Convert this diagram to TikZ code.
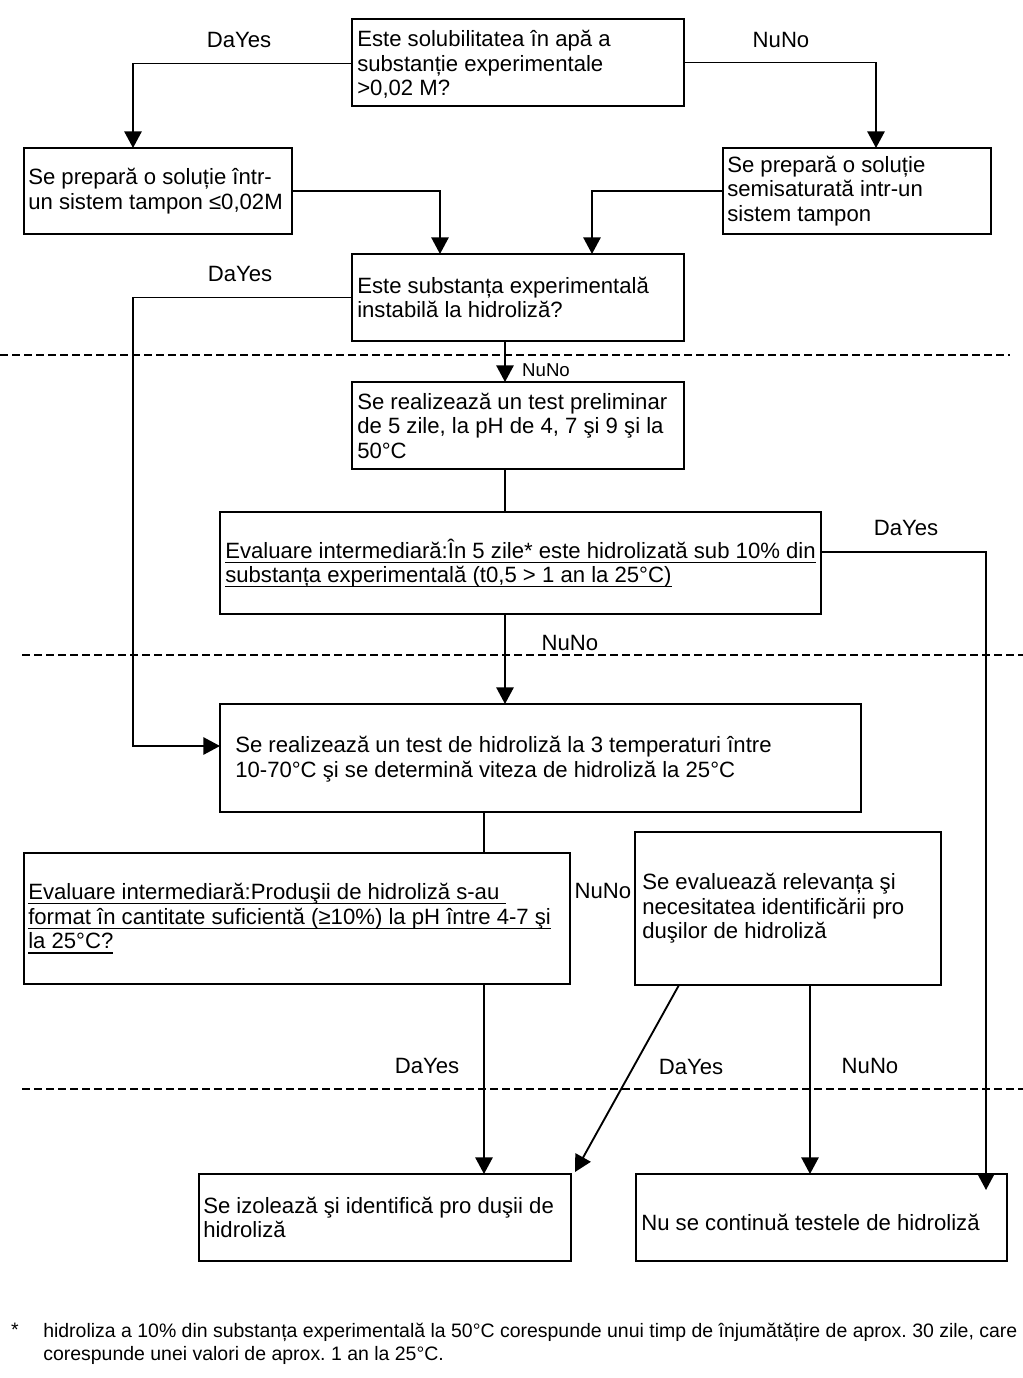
\documentclass[tikz,border=0pt]{standalone}
\usepackage{fontspec}
\setmainfont{Liberation Sans}
\usetikzlibrary{arrows.meta,calc}
\newcommand\myul[1]{\setbox0\hbox{#1}\rlap{\rule[-3.5pt]{\wd0}{0.9pt}}\box0}
\frenchspacing
\begin{document}
\begin{tikzpicture}[x=0.75pt,y=-0.75pt,
  every node/.style={font=\fontsize{16.6}{18.4}\selectfont},
  bx/.style 2 args={draw, line width=1.4pt, minimum width=#1*0.75pt, minimum height=#2*0.75pt, inner sep=0pt, outer sep=0pt},
  txt/.style={anchor=west, align=left, inner sep=0pt},
  lbl/.style={inner sep=0pt},
  smalllbl/.style={inner sep=0pt, font=\fontsize{14}{16}\selectfont},
  conn/.style={line width=1.4pt},
  arr/.style={conn, -{Triangle[width=13pt,length=12.5pt]}},
  dsh/.style={line width=1pt, dash pattern=on 6pt off 3pt}
]
\useasboundingbox (0,0) rectangle (1023,1378);

% boxes
\node[bx={332}{87}] (b1) at (518,62.5) {};
\node[bx={268}{86}] (b2) at (158,191) {};
\node[bx={268}{86}] (b3) at (857,191) {};
\node[bx={332}{87}] (b4) at (518,297.5) {};
\node[bx={332}{87}] (b5) at (518,425.5) {};
\node[bx={601}{102}] (b6) at (520.5,563) {};
\node[bx={641}{108}] (b7) at (540.5,758) {};
\node[bx={546}{131}] (b8) at (297,918.5) {};
\node[bx={306}{153}] (b9) at (788,908.5) {};
\node[bx={372}{87}] (b10) at (385,1217.5) {};
\node[bx={371}{87}] (b11) at (821.5,1217.5) {};

% texts
\node[txt] (t1) at ($(b1.west)+(5,2)$) {Este solubilitatea în apă a\\substanție experimentale\\>0,02 M?};
\node[txt] (t2) at ($(b2.west)+(4,0)$) {Se prepară o soluție într-\\un sistem tampon ≤0,02M};
\node[txt] (t3) at ($(b3.west)+(4,0)$) {Se prepară o soluție\\semisaturată intr-un\\sistem tampon};
\node[txt] (t4) at ($(b4.west)+(5,0)$) {Este substanța experimentală\\instabilă la hidroliză?};
\node[txt] (t5) at ($(b5.west)+(5,0)$) {Se realizează un test preliminar\\de 5 zile, la pH de 4, 7 şi 9 şi la\\50°C};
\node[txt] (t6) at ($(b6.west)+(5,0)$) {\myul{Evaluare intermediară:În 5 zile* este hidrolizată sub 10\% din}\\\myul{substanța experimentală (t0,5 > 1 an la 25°C)}};
\node[txt] (t7) at ($(b7.west)+(15,1)$) {Se realizează un test de hidroliză la 3 temperaturi între\\10-70°C şi se determină viteza de hidroliză la 25°C};
\node[txt] (t8) at ($(b8.west)+(4,0)$) {\myul{Evaluare intermediară:Produşii de hidroliză s-au\ }\\\myul{format în cantitate suficientă (≥10\%) la pH între 4-7 şi}\\\myul{la 25°C?}};
\node[txt] (t9) at ($(b9.west)+(7,0)$) {Se evaluează relevanța şi\\necesitatea identificării pro\\duşilor de hidroliză};
\node[txt] (t10) at ($(b10.west)+(4,0)$) {Se izolează şi identifică pro duşii de\\hidroliză};
\node[txt] (t11) at ($(b11.west)+(5,5)$) {Nu se continuă testele de hidroliză};

% labels
\node[lbl] (l1) at (239,40) {DaYes};
\node[lbl] (l2) at (781,40) {NuNo};
\node[lbl] (l3) at (240,274) {DaYes};
\node[smalllbl] (l4) at (546,370) {NuNo};
\node[lbl] (l5) at (906,528) {DaYes};
\node[lbl] (l6) at (570,643) {NuNo};
\node[lbl] (l7) at (603,891) {NuNo};
\node[lbl] (l8) at (427,1066) {DaYes};
\node[lbl] (l9) at (691,1067) {DaYes};
\node[lbl] (l10) at (870,1066) {NuNo};

% dashed separators
\draw[dsh] (0,355) -- (1010,355);
\draw[dsh] (22,655) -- (1023,655);
\draw[dsh] (22,1089) -- (1023,1089);

% helper columns
\coordinate (cx) at (505,0);
\coordinate (cx2) at (484,0);
\coordinate (cx3) at (810,0);
\coordinate (k5) at (133,746);
\coordinate (k8) at (986,1190);

% connectors
\draw[arr] ($(b1.west)+(0,1)$) -| ($(b2.north)+(-25,0)$);
\draw[arr] (b1.east) -| ($(b3.north)+(19,0)$);
\draw[arr] (b2.east) -| ($(b4.north)+(-78,0)$);
\draw[arr] (b3.west) -| ($(b4.north)+(74,0)$);
\draw[arr] (b4.west) -| (k5) -- ($(b7.west)+(0,-12)$);
\draw[arr] (b4.south -| cx) -- (b5.north -| cx);
\draw[conn] (b5.south -| cx) -- (b6.north -| cx);
\draw[arr] ($(b6.east)+(0,-11)$) -| (k8);
\draw[arr] (b6.south -| cx) -- (b7.north -| cx);
\draw[conn] (b7.south -| cx2) -- (b8.north -| cx2);
\draw[arr] (b8.south -| cx2) -- (b10.north -| cx2);
\draw[arr] ($(b9.south west)+(44,0)$) -- ($(b10.north east)+(4,-2)$);
\draw[arr] (b9.south -| cx3) -- (b11.north -| cx3);

% footnote
\node[inner sep=0pt, font=\fontsize{14.6}{17.25}\selectfont] (fstar) at (15,1330) {*};
\node[txt, font=\fontsize{14.6}{17.25}\selectfont] (fn) at (43,1344) {hidroliza a 10\% din substanța experimentală la 50°C corespunde unui timp de înjumătățire de aprox. 30 zile, care\\corespunde unei valori de aprox. 1 an la 25°C.};
\end{tikzpicture}
\end{document}
